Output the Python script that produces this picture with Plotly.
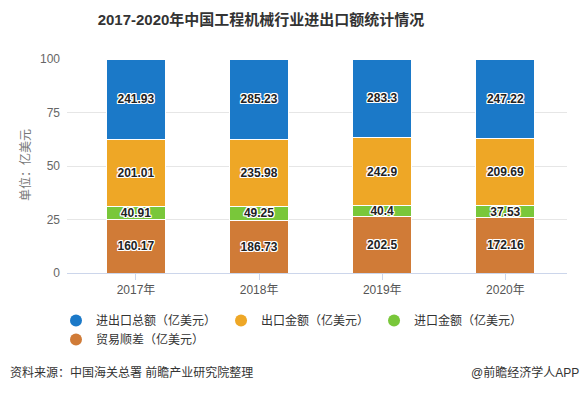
import plotly.graph_objects as go

years = ["2017年", "2018年", "2019年", "2020年"]
total = [241.93, 285.23, 283.3, 247.22]
export = [201.01, 235.98, 242.9, 209.69]
imports = [40.91, 49.25, 40.4, 37.53]
surplus = [160.17, 186.73, 202.5, 172.16]

total_lbl = ["241.93", "285.23", "283.3", "247.22"]
export_lbl = ["201.01", "235.98", "242.9", "209.69"]
import_lbl = ["40.91", "49.25", "40.4", "37.53"]
surplus_lbl = ["160.17", "186.73", "202.5", "172.16"]

names = ["进出口总额（亿美元）", "出口金额（亿美元）", "进口金额（亿美元）", "贸易顺差（亿美元）"]
colors = ["#1b79c8", "#eea726", "#79c73a", "#d07b37"]

FONT = "Liberation Sans, Noto Sans CJK SC, sans-serif"
shadow = "-1px -1px 0 #fff, 1px -1px 0 #fff, -1px 1px 0 #fff, 1px 1px 0 #fff, 0 1px 0 #fff, 0 -1px 0 #fff, 1px 0 0 #fff, -1px 0 0 #fff"

L, R, T, B = 67, 20, 59, 120
W, H = 587, 393
PW, PH = W - L - R, H - T - B


def px(x):
    return (x - L) / PW


def py(y):
    return (H - B - y) / PH


fig = go.Figure()
stack = [(surplus, surplus_lbl, 3), (imports, import_lbl, 2), (export, export_lbl, 1), (total, total_lbl, 0)]
for vals, lbls, idx in stack:
    fig.add_trace(go.Bar(
        x=years, y=vals, text=lbls, texttemplate="%{text}",
        textposition="inside", insidetextanchor="middle",
        textfont=dict(family=FONT, size=12, color="#222", weight="bold", shadow=shadow),
        marker=dict(color=colors[idx], line=dict(color="#ffffff", width=1)),
        width=0.48, showlegend=False, name=names[idx], legendgroup=names[idx],
        constraintext="none",
    ))
for i in range(4):
    fig.add_trace(go.Scatter(
        x=[None], y=[None], mode="markers", name=names[i], legendgroup=names[i],
        marker=dict(symbol="circle", size=12, color=colors[i]),
    ))

fig.update_layout(
    width=W, height=H,
    barmode="stack", barnorm="percent",
    margin=dict(l=L, r=R, t=T, b=B, autoexpand=False),
    paper_bgcolor="white", plot_bgcolor="white",
    font=dict(family=FONT, size=12, color="#666"),
    title=dict(text="<b>2017-2020年中国工程机械行业进出口额统计情况</b>",
               x=261/W, xanchor="center", y=1-20/H, yanchor="middle",
               font=dict(size=15, color="#333", family=FONT)),
    xaxis=dict(type="category", range=[-0.56, 3.5], showline=True, linecolor="#ccd6eb",
               ticks="outside", ticklen=6, tickcolor="#ccd6eb",
               tickfont=dict(size=12, color="#555")),
    yaxis=dict(range=[0, 100], tickvals=[0, 25, 50, 75, 100], showgrid=True,
               gridcolor="#e6e6e6", zeroline=False, tickfont=dict(size=12, color="#666"),
               ticklabelstandoff=6),
    legend=dict(orientation="h", x=56/W, xref="container", y=1-306/H, yref="container",
                xanchor="left", yanchor="top",
                font=dict(size=12, color="#333"), itemsizing="constant",
                tracegroupgap=0),
    annotations=[
        dict(text="单位：亿美元", xref="paper", yref="paper", x=px(25), y=py(165),
             textangle=-90, showarrow=False, font=dict(size=12, color="#777"),
             xanchor="center", yanchor="middle"),
        dict(text="资料来源：中国海关总署 前瞻产业研究院整理", xref="paper", yref="paper",
             x=px(8), y=py(372), xanchor="left", yanchor="middle", showarrow=False,
             font=dict(size=12, color="#333")),
        dict(text="@前瞻经济学人APP", xref="paper", yref="paper",
             x=px(581), y=py(372), xanchor="right", yanchor="middle", showarrow=False,
             font=dict(size=12, color="#333")),
    ],
)
fig.write_html("out.html", config={"displayModeBar": False},
               post_script="document.body.style.margin='0px';")
